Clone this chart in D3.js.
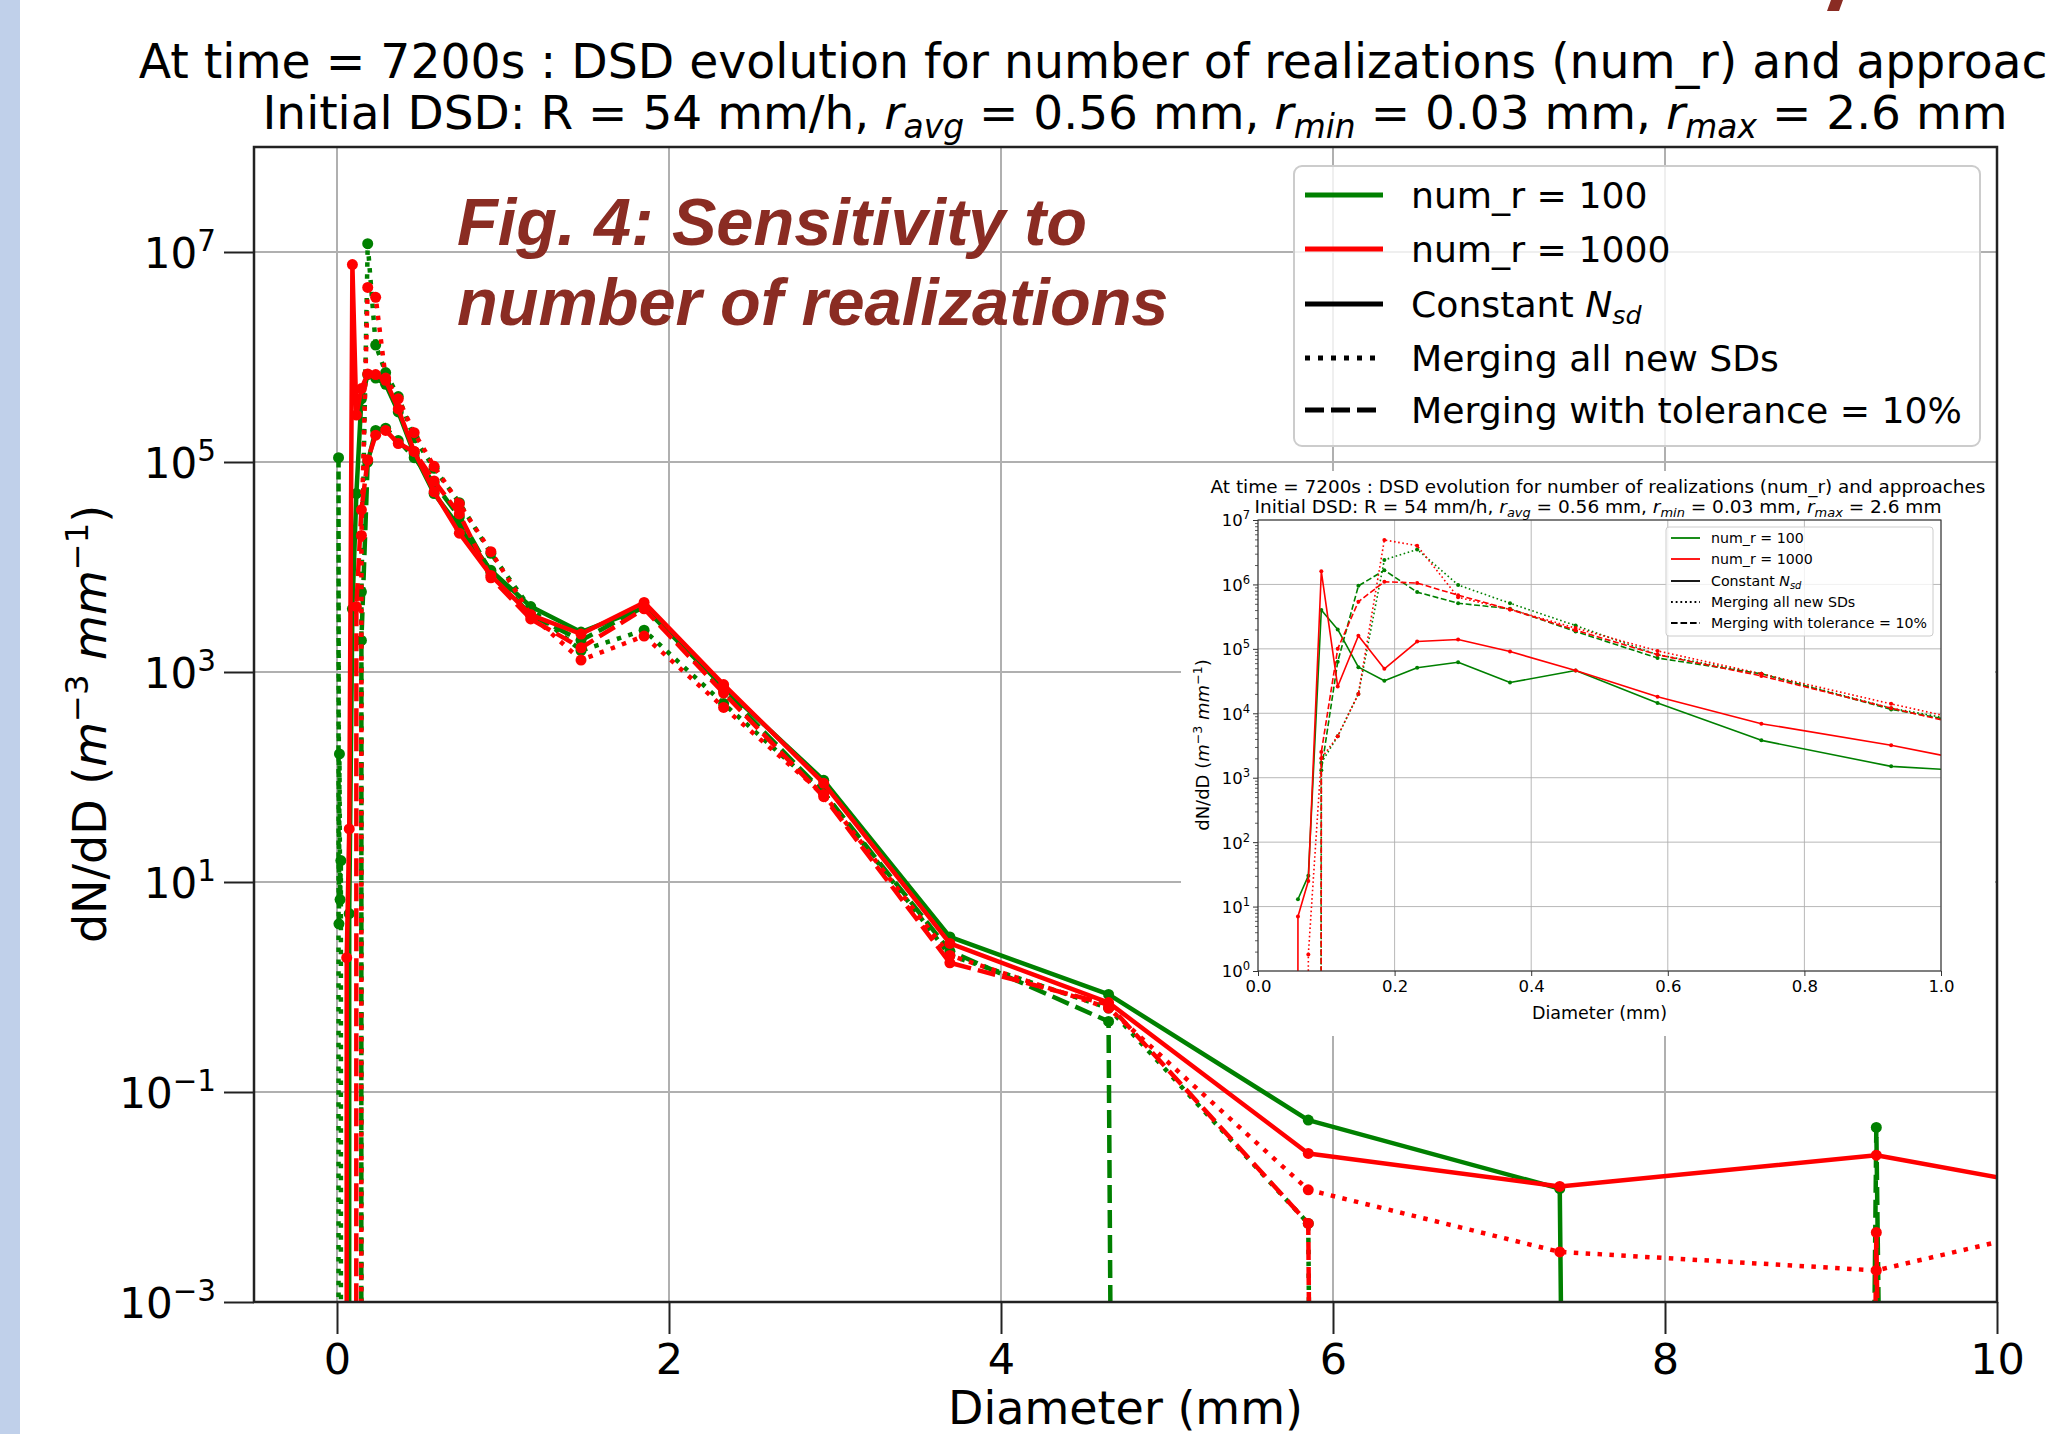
<!DOCTYPE html>
<html>
<head>
<meta charset="utf-8">
<script src="https://cdn.jsdelivr.net/npm/d3@7/dist/d3.min.js"></script>
<style>
html,body{margin:0;padding:0;background:#ffffff;}
svg{display:block;font-family:"DejaVu Sans",sans-serif;}
</style>
</head>
<body>
<svg id="chart" width="2046" height="1434"></svg>
<script>
// ---------------- main chart data ----------------
const diameters = [0.0074, 0.0093, 0.0117, 0.0147, 0.0185, 0.0233, 0.0293, 0.0369, 0.0465, 0.0585,
  0.0737, 0.0927, 0.1167, 0.147, 0.185, 0.233, 0.293, 0.369, 0.465, 0.585,
  0.737, 0.927, 1.167, 1.470, 1.850, 2.329, 2.932, 3.692, 4.648, 5.851,
  7.366, 9.273, 11.674];
const green_const = [0,0,0,0,0,0,0,0,0,0,
  5, 4.0e3, 5.0e4, 4.0e5, 6.8e5, 6.3e5, 5.5e5, 3.0e5, 1.2e5, 5.0e4,
  2.4e4, 9.3e3, 4.2e3, 2.4e3, 4.1e3, 720, 93, 3.0, 0.85, 0.054,
  0.012, 0, 0];
const red_const = [0,0,0,0,0,0,0,0,0,
  1.9, 32, 7.6e6, 2.8e5, 5.0e5, 6.9e5, 6.8e5, 6.0e5, 3.2e5, 1.26e5, 5.2e4,
  2.1e4, 8.3e3, 3.5e3, 2.3e3, 4.6e3, 760, 87, 2.6, 0.71, 0.026,
  0.0126, 0.025, 0.0051];
const green_merge_all = [0, 1.1e5, 4, 166, 6.8, 16, 0, 0, 0, 0,
  0, 0, 0, 5.8e3, 1.2e7, 1.3e6, 7.1e5, 4.2e5, 1.7e5, 8.7e4,
  4.1e4, 1.35e4, 4.0e3, 1.6e3, 2.5e3, 500, 71, 2.0, 0.63, 0.0056,
  0, 0, 0];
const red_merge_all = [0,0,0,0,0,0,0,0,0,0,
  0, 0, 0, 2.0e4, 4.6e6, 3.7e6, 6.3e5, 4.0e5, 1.9e5, 9.1e4,
  4.0e4, 1.4e4, 3.5e3, 1.3e3, 2.2e3, 460, 68, 2.0, 0.63, 0.0117,
  0.0030, 0.0020, 0.0155];
const green_merge_tol = [0,0,0,0,0,0,0,0,0,0,
  0, 0, 0, 2.0e3, 1.0e5, 2.0e5, 2.1e5, 1.6e5, 1.1e5, 6.3e4,
  3.0e4, 8.9e3, 3.5e3, 2.0e3, 4.2e3, 660, 71, 2.2, 0.47, 0,
  0, 0.046, 0];
const red_merge_tol = [0,0,0,0,0,0,0,0,0,0,
  0, 0, 4.2e3, 3.5e4, 1.05e5, 1.8e5, 2.0e5, 1.5e5, 1.26e5, 6.6e4,
  3.2e4, 7.9e3, 3.2e3, 1.7e3, 4.0e3, 630, 65, 1.7, 0.68, 0.0056,
  0, 0.0046, 0];

const xTicks = [0, 2, 4, 6, 8, 10];
const yTickExps = [-3, -1, 1, 3, 5, 7];

// ---------------- inset chart data ----------------
const inset_diameters = [0.0465, 0.0585, 0.0737, 0.0927, 0.1167, 0.147, 0.185, 0.233, 0.293, 0.369, 0.465, 0.585, 0.737, 0.927, 1.167];
const inset_green_const = [null, 13, 30, 4.0e5, 2.0e5, 5.2e4, 3.2e4, 5.1e4, 6.2e4, 3.0e4, 4.6e4, 1.45e4, 3.8e3, 1.5e3, 1.07e3];
const inset_red_const = [0, 7, 25, 1.6e6, 2.6e4, 1.6e5, 4.9e4, 1.3e5, 1.4e5, 9.1e4, 4.6e4, 1.8e4, 6.9e3, 3.2e3, 1.0e3];
const inset_green_merge_all = [0, 0, 0, 1.7e3, 4.4e3, 2.0e4, 2.4e6, 3.5e6, 9.8e5, 5.1e5, 2.3e5, 8.1e4, 4.1e4, 1.2e4, 4.2e3];
const inset_red_merge_all = [0, 0, 1.8, 2.0e3, 4.4e3, 2.0e4, 4.9e6, 4.0e6, 6.3e5, 4.1e5, 2.1e5, 9.3e4, 4.1e4, 1.4e4, 3.8e3];
const inset_green_merge_tol = [0, 0, 0, 1.3e3, 6.3e4, 9.5e5, 1.66e6, 7.6e5, 5.1e5, 4.2e5, 1.86e5, 7.2e4, 4.1e4, 1.15e4, 4.0e3];
const inset_red_merge_tol = [0, 0, 0, 2.5e3, 1.0e5, 5.4e5, 1.1e6, 1.05e6, 6.8e5, 4.1e5, 1.95e5, 8.1e4, 3.8e4, 1.2e4, 3.1e3];
const insetXTicks = [0, 0.2, 0.4, 0.6, 0.8, 1.0];
const insetYTickExps = [0, 1, 2, 3, 4, 5, 6, 7];

const legendLabels = ["num_r = 100", "num_r = 1000", "Constant N_sd", "Merging all new SDs", "Merging with tolerance = 10%"];
const GREEN = "#008000", RED = "#ff0000";

const svg = d3.select("#chart");
svg.append("rect").attr("width", 2046).attr("height", 1434).attr("fill", "#ffffff");
// light strip on the left
svg.append("rect").attr("x", 0).attr("y", 0).attr("width", 20).attr("height", 1434).attr("fill", "#c0d0ea");

// ------------- helpers -------------
function drawSeries(g, xs, ys, D, vals, color, dash, lw, r) {
  const pts = D.map((d, i) => ({D: d, v: vals[i]}));
  const yv = v => v > 0 ? ys(v) : ys(1e-300);
  const line = d3.line().defined(p => p.v !== null).x(p => xs(p.D)).y(p => yv(p.v));
  g.append("path").datum(pts).attr("d", line)
    .attr("fill", "none").attr("stroke", color).attr("stroke-width", lw)
    .attr("stroke-linejoin", "round")
    .attr("stroke-dasharray", dash);
  g.append("g").selectAll("circle").data(pts.filter(p => p.v !== null && p.v > 0)).join("circle")
    .attr("cx", p => xs(p.D)).attr("cy", p => ys(p.v)).attr("r", r).attr("fill", color);
}
function powText(t, exp, fs, shift) {
  t.text(null);
  t.append("tspan").text("10");
  t.append("tspan").attr("font-size", fs * 0.7).attr("dy", -shift).text(String(exp).replace("-", "\u2212"));
}

// ---------------- MAIN CHART ----------------
const M = {left: 254, right: 1997, top: 147, bottom: 1302};
const x = d3.scaleLinear().domain([-0.5, 10]).range([M.left, M.right]);
const y = d3.scaleLog().domain([1e-3, 1e8]).range([M.bottom, M.top]);

const main = svg.append("g");
// grid
main.append("g").selectAll("line").data(xTicks).join("line")
  .attr("x1", d => x(d)).attr("x2", d => x(d)).attr("y1", M.top).attr("y2", M.bottom)
  .attr("stroke", "#b0b0b0").attr("stroke-width", 2);
main.append("g").selectAll("line").data(yTickExps).join("line")
  .attr("x1", M.left).attr("x2", M.right).attr("y1", d => y(Math.pow(10, d))).attr("y2", d => y(Math.pow(10, d)))
  .attr("stroke", "#b0b0b0").attr("stroke-width", 2);

// series
svg.append("clipPath").attr("id", "mainClip").append("rect")
  .attr("x", M.left).attr("y", M.top).attr("width", M.right - M.left).attr("height", M.bottom - M.top);
const plot = main.append("g").attr("clip-path", "url(#mainClip)");
const DOT = "4.5,7.4", DASH = "18,7";
drawSeries(plot, x, y, diameters, green_const, GREEN, null, 4.5, 5.5);
drawSeries(plot, x, y, diameters, green_merge_all, GREEN, DOT, 4.5, 5.5);
drawSeries(plot, x, y, diameters, green_merge_tol, GREEN, DASH, 4.5, 5.5);
drawSeries(plot, x, y, diameters, red_const, RED, null, 4.5, 5.5);
drawSeries(plot, x, y, diameters, red_merge_all, RED, DOT, 4.5, 5.5);
drawSeries(plot, x, y, diameters, red_merge_tol, RED, DASH, 4.5, 5.5);

// axes
const xAxis = main.append("g").attr("transform", `translate(0,${M.bottom})`)
  .call(d3.axisBottom(x).tickValues(xTicks).tickSize(32).tickPadding(9).tickFormat(d3.format("d")));
xAxis.select(".domain").remove();
xAxis.selectAll("line").attr("stroke", "#222").attr("stroke-width", 2);
xAxis.selectAll("text").attr("font-size", 43).attr("fill", "#000").attr("font-family", "DejaVu Sans");

const yAxis = main.append("g").attr("transform", `translate(${M.left},0)`)
  .call(d3.axisLeft(y).tickValues(yTickExps.map(e => Math.pow(10, e))).tickSize(30).tickPadding(8));
yAxis.select(".domain").remove();
yAxis.selectAll("line").attr("stroke", "#222").attr("stroke-width", 2);
yAxis.selectAll("text").attr("font-size", 42).attr("fill", "#000").attr("font-family", "DejaVu Sans")
  .attr("dy", "0.36em")
  .each(function(d) { powText(d3.select(this), Math.round(Math.log10(d)), 42, 17); });

// spines
main.append("rect").attr("x", M.left).attr("y", M.top).attr("width", M.right - M.left).attr("height", M.bottom - M.top)
  .attr("fill", "none").attr("stroke", "#222").attr("stroke-width", 2.5);

// axis labels
main.append("text").attr("x", (M.left + M.right) / 2).attr("y", 1424).attr("text-anchor", "middle")
  .attr("font-size", 46).text("Diameter (mm)");
const yl = main.append("text").attr("transform", "translate(106,724) rotate(-90)").attr("text-anchor", "middle").attr("font-size", 46);
function unitLabel(t, fs) {
  t.append("tspan").text("dN/dD (");
  t.append("tspan").attr("font-style", "italic").text("m");
  t.append("tspan").attr("font-size", fs * 0.7).attr("dy", -fs * 0.4).text("\u22123");
  t.append("tspan").attr("dy", fs * 0.4).text(" ");
  t.append("tspan").attr("font-style", "italic").text("mm");
  t.append("tspan").attr("font-size", fs * 0.7).attr("dy", -fs * 0.4).text("\u22121");
  t.append("tspan").attr("dy", fs * 0.4).text(")");
}
unitLabel(yl, 46);

// titles
function titleLines(g, cx, y1, y2, fs1, fs) {
  g.append("text").attr("x", cx).attr("y", y1).attr("text-anchor", "middle").attr("font-size", fs1)
    .text("At time = 7200s : DSD evolution for number of realizations (num_r) and approaches");
  const t = g.append("text").attr("x", cx).attr("y", y2).attr("text-anchor", "middle").attr("font-size", fs);
  const sub = (s) => {
    t.append("tspan").attr("font-style", "italic").text("r");
    t.append("tspan").attr("font-style", "italic").attr("font-size", fs * 0.7).attr("dy", fs * 0.2).text(s);
  };
  t.append("tspan").text("Initial DSD: R = 54 mm/h, ");
  sub("avg");
  t.append("tspan").attr("dy", -fs * 0.2).text(" = 0.56 mm, ");
  sub("min");
  t.append("tspan").attr("dy", -fs * 0.2).text(" = 0.03 mm, ");
  sub("max");
  t.append("tspan").attr("dy", -fs * 0.2).text(" = 2.6 mm");
}
titleLines(main, 1135, 78, 129, 47.3, 47);

// legend
function drawLegend(g, box, rows, lineX1, lineX2, textX, fs, lw, dashes, rx) {
  g.append("rect").attr("x", box.x).attr("y", box.y).attr("width", box.w).attr("height", box.h)
    .attr("rx", rx).attr("fill", "#ffffff").attr("fill-opacity", 0.8).attr("stroke", "#cccccc").attr("stroke-width", Math.max(1, lw * 0.4));
  const colors = [GREEN, RED, "#000", "#000", "#000"];
  legendLabels.forEach((lab, i) => {
    const yy = rows[i];
    g.append("line").attr("x1", lineX1).attr("x2", lineX2).attr("y1", yy).attr("y2", yy)
      .attr("stroke", colors[i]).attr("stroke-width", lw).attr("stroke-dasharray", dashes[i]);
    const t = g.append("text").attr("x", textX).attr("y", yy).attr("dy", "0.36em").attr("font-size", fs);
    if (lab.indexOf("N_sd") >= 0) {
      t.append("tspan").text("Constant ");
      t.append("tspan").attr("font-style", "italic").text("N");
      t.append("tspan").attr("font-style", "italic").attr("font-size", fs * 0.7).attr("dy", fs * 0.2).text("sd");
    } else {
      t.text(lab);
    }
  });
}
drawLegend(main, {x: 1294, y: 166, w: 686, h: 280}, [195, 249, 304, 358, 410], 1305, 1383, 1411, 36.2, 5,
  [null, null, null, "5,8", "19,7"], 8);

// Fig. text overlay
const figColor = "#8a2c23";
svg.append("text").attr("x", 457).attr("y", 245).attr("font-family", "Liberation Sans, Arial, sans-serif")
  .attr("font-weight", "bold").attr("font-style", "italic").attr("font-size", 66.7).attr("fill", figColor)
  .text("Fig. 4: Sensitivity to");
svg.append("text").attr("x", 457).attr("y", 325).attr("font-family", "Liberation Sans, Arial, sans-serif")
  .attr("font-weight", "bold").attr("font-style", "italic").attr("font-size", 66.7).attr("fill", figColor)
  .text("number of realizations");
// fragment of a cut-off heading stroke at the top edge
svg.append("path").attr("d", "M1831,0 L1843,0 L1839,11 L1827,11 Z").attr("fill", figColor);

// ---------------- INSET CHART ----------------
const inset = svg.append("g");
inset.append("rect").attr("x", 1181).attr("y", 471).attr("width", 814).attr("height", 565).attr("fill", "#ffffff");
const I = {left: 1258, right: 1941, top: 520, bottom: 971};
const xi = d3.scaleLinear().domain([0, 1]).range([I.left, I.right]);
const yi = d3.scaleLog().domain([1, 1e7]).range([I.bottom, I.top]);

inset.append("g").selectAll("line").data(insetXTicks).join("line")
  .attr("x1", d => xi(d)).attr("x2", d => xi(d)).attr("y1", I.top).attr("y2", I.bottom)
  .attr("stroke", "#b0b0b0").attr("stroke-width", 0.9);
inset.append("g").selectAll("line").data(insetYTickExps).join("line")
  .attr("x1", I.left).attr("x2", I.right).attr("y1", d => yi(Math.pow(10, d))).attr("y2", d => yi(Math.pow(10, d)))
  .attr("stroke", "#b0b0b0").attr("stroke-width", 0.9);

svg.append("clipPath").attr("id", "insetClip").append("rect")
  .attr("x", I.left).attr("y", I.top).attr("width", I.right - I.left).attr("height", I.bottom - I.top);
const iplot = inset.append("g").attr("clip-path", "url(#insetClip)");
const IDOT = "1.6,2.6", IDASH = "5.9,2.6";
drawSeries(iplot, xi, yi, inset_diameters, inset_green_const, GREEN, null, 1.6, 2);
drawSeries(iplot, xi, yi, inset_diameters, inset_green_merge_all, GREEN, IDOT, 1.6, 2);
drawSeries(iplot, xi, yi, inset_diameters, inset_green_merge_tol, GREEN, IDASH, 1.6, 2);
drawSeries(iplot, xi, yi, inset_diameters, inset_red_const, RED, null, 1.6, 2);
drawSeries(iplot, xi, yi, inset_diameters, inset_red_merge_all, RED, IDOT, 1.6, 2);
drawSeries(iplot, xi, yi, inset_diameters, inset_red_merge_tol, RED, IDASH, 1.6, 2);

const ixAxis = inset.append("g").attr("transform", `translate(0,${I.bottom})`)
  .call(d3.axisBottom(xi).tickValues(insetXTicks).tickSize(5).tickPadding(4).tickFormat(d3.format(".1f")));
ixAxis.select(".domain").remove();
ixAxis.selectAll("line").attr("stroke", "#333").attr("stroke-width", 1);
ixAxis.selectAll("text").attr("font-size", 16.5).attr("fill", "#000").attr("font-family", "DejaVu Sans");

const minorVals = yi.ticks().filter(v => Math.abs(Math.log10(v) - Math.round(Math.log10(v))) > 1e-6);
const iyMinor = inset.append("g").attr("transform", `translate(${I.left},0)`)
  .call(d3.axisLeft(yi).tickValues(minorVals).tickSize(3).tickFormat(""));
iyMinor.select(".domain").remove();
iyMinor.selectAll("line").attr("stroke", "#333").attr("stroke-width", 0.8);
const iyAxis = inset.append("g").attr("transform", `translate(${I.left},0)`)
  .call(d3.axisLeft(yi).tickValues(insetYTickExps.map(e => Math.pow(10, e))).tickSize(5).tickPadding(3));
iyAxis.select(".domain").remove();
iyAxis.selectAll("line").attr("stroke", "#333").attr("stroke-width", 1);
iyAxis.selectAll("text").attr("font-size", 16.5).attr("fill", "#000").attr("font-family", "DejaVu Sans")
  .attr("dy", "0.36em")
  .each(function(d) { powText(d3.select(this), Math.round(Math.log10(d)), 16.5, 7); });

inset.append("rect").attr("x", I.left).attr("y", I.top).attr("width", I.right - I.left).attr("height", I.bottom - I.top)
  .attr("fill", "none").attr("stroke", "#333").attr("stroke-width", 1.1);

inset.append("text").attr("x", (I.left + I.right) / 2).attr("y", 1019).attr("text-anchor", "middle")
  .attr("font-size", 17.5).text("Diameter (mm)");
const iyl = inset.append("text").attr("transform", "translate(1209,745) rotate(-90)").attr("text-anchor", "middle").attr("font-size", 18);
unitLabel(iyl, 18);
titleLines(inset, 1598, 493, 513, 18.4, 18.5);

drawLegend(inset, {x: 1666, y: 527, w: 267, h: 109}, [538, 559, 581, 602, 623], 1671, 1700, 1711, 14.2, 1.8,
  [null, null, null, "1.8,2.9", "6.6,2.9"], 3);
</script>
</body>
</html>
